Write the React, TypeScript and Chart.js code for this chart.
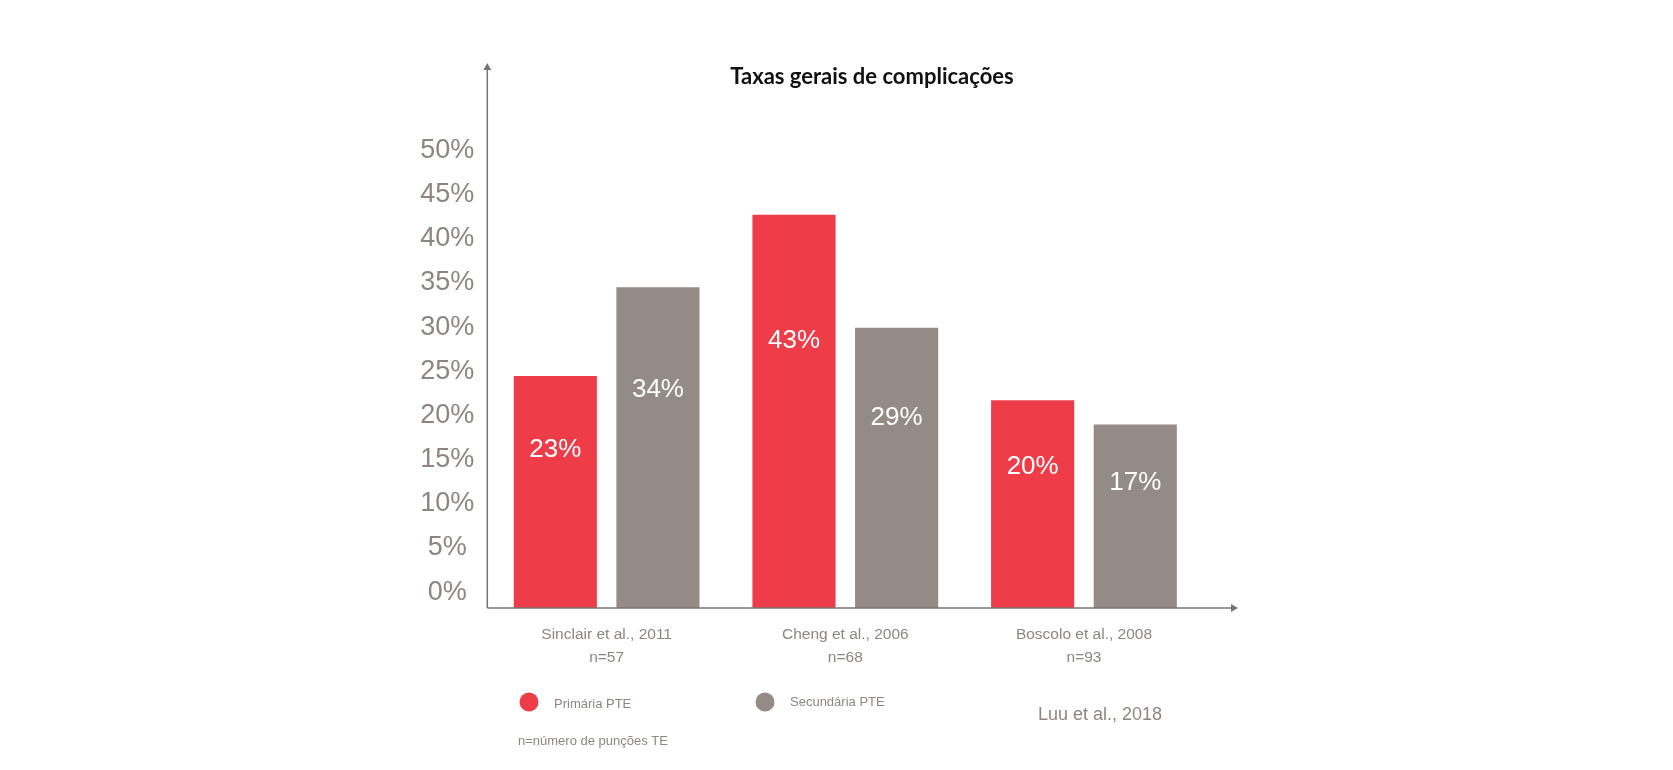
import React, { useEffect, useRef } from 'react';
import { Chart, registerables } from 'chart.js';

Chart.register(...registerables);

// ---- Data ----
const studies = ['Sinclair et al., 2011', 'Cheng et al., 2006', 'Boscolo et al., 2008'];
const sampleSizes = ['n=57', 'n=68', 'n=93'];
const seriesLabels = ['Primária PTE', 'Secundária PTE'];
const primaryValues = [23, 43, 20];
const secondaryValues = [34, 29, 17];
const yTickValues = [0, 5, 10, 15, 20, 25, 30, 35, 40, 45, 50];
const titleText = 'Taxas gerais de complicações';
const footnoteText = 'n=número de punções TE';
const sourceText = 'Luu et al., 2018';

// ---- Style ----
const RED = '#EE3D49';
const GREY = '#948A86';
const TEXT_GREY = '#8E8582';
const AXIS = '#7C7472';
const FONT = "'Liberation Sans', Arial, sans-serif";
const BAR_BASE = -5.75;

const decorPlugin = {
  id: 'decor',
  afterDatasetsDraw(chart: any) {
    const { ctx, chartArea } = chart;
    const left = chartArea.left;
    const bottom = chartArea.bottom;
    ctx.save();

    // axes with arrows
    ctx.strokeStyle = AXIS;
    ctx.fillStyle = AXIS;
    ctx.lineWidth = 1.5;
    ctx.beginPath();
    ctx.moveTo(left, bottom);
    ctx.lineTo(left, 69);
    ctx.moveTo(left, bottom);
    ctx.lineTo(1232, bottom);
    ctx.stroke();
    ctx.beginPath();
    ctx.moveTo(left, 63);
    ctx.lineTo(left - 4, 70);
    ctx.lineTo(left + 4, 70);
    ctx.closePath();
    ctx.fill();
    ctx.beginPath();
    ctx.moveTo(1238, bottom);
    ctx.lineTo(1231, bottom - 4);
    ctx.lineTo(1231, bottom + 4);
    ctx.closePath();
    ctx.fill();

    // value labels inside bars
    ctx.fillStyle = '#FFFFFF';
    ctx.font = `26px ${FONT}`;
    ctx.textAlign = 'center';
    ctx.textBaseline = 'middle';
    chart.data.datasets.forEach((ds: any, di: number) => {
      const meta = chart.getDatasetMeta(di);
      meta.data.forEach((bar: any, i: number) => {
        const y = bar.y + 0.32 * (bar.base - bar.y);
        ctx.fillText(`${ds.data[i]}%`, bar.x, y);
      });
    });

    // title
    ctx.fillStyle = '#111111';
    ctx.font = `bold 22px Lato, 'Open Sans', sans-serif`;
    ctx.textAlign = 'center';
    ctx.fillText(titleText, 872, 77);

    // legend
    const legendX = [529, 765];
    chart.data.datasets.forEach((ds: any, di: number) => {
      const cx = legendX[di];
      const cy = 702;
      ctx.fillStyle = ds.backgroundColor;
      ctx.beginPath();
      ctx.arc(cx, cy, 9.5, 0, Math.PI * 2);
      ctx.fill();
      ctx.fillStyle = TEXT_GREY;
      ctx.font = `13px ${FONT}`;
      ctx.textAlign = 'left';
      ctx.fillText(ds.label, cx + 25, cy + 2 - di * 2);
    });

    // footnote and source
    ctx.fillStyle = TEXT_GREY;
    ctx.font = `13px ${FONT}`;
    ctx.textAlign = 'left';
    ctx.fillText(footnoteText, 518, 741);
    ctx.font = `18px ${FONT}`;
    ctx.fillText(sourceText, 1038, 715);

    ctx.restore();
  },
};

export default function App() {
  const canvasRef = useRef<HTMLCanvasElement | null>(null);

  useEffect(() => {
    const canvas = canvasRef.current;
    if (!canvas) return;
    const chart = new Chart(canvas, {
      type: 'bar',
      data: {
        labels: studies.map((s, i) => [s, sampleSizes[i]]),
        datasets: [
          {
            label: seriesLabels[0],
            data: primaryValues,
            backgroundColor: RED,
            yAxisID: 'yBars',
            base: BAR_BASE,
          } as any,
          {
            label: seriesLabels[1],
            data: secondaryValues,
            backgroundColor: GREY,
            yAxisID: 'yBars',
            base: BAR_BASE,
          } as any,
        ],
      },
      options: {
        animation: false,
        responsive: false,
        layout: { padding: { top: 63, right: 469.7, bottom: 0, left: 0 } },
        datasets: { bar: { barPercentage: 0.81, categoryPercentage: 0.86 } },
        plugins: {
          legend: { display: false },
          tooltip: { enabled: false },
          title: { display: false },
        },
        scales: {
          x: {
            type: 'category',
            grid: { display: false, drawTicks: false },
            border: { display: false },
            ticks: {
              color: TEXT_GREY,
              font: { family: FONT, size: 15.5, lineHeight: '23px' },
              padding: 15.5,
              maxRotation: 0,
              autoSkip: false,
            },
            afterFit: (s: any) => {
              s.height = 162;
            },
          },
          y: {
            type: 'linear',
            position: 'left',
            min: -1.8,
            max: 59.9,
            grid: { display: false, drawTicks: false },
            border: { display: false },
            afterBuildTicks: (s: any) => {
              s.ticks = yTickValues.map((v) => ({ value: v }));
            },
            ticks: {
              callback: (v: any) => `${v}%`,
              crossAlign: 'center',
              padding: 13,
              color: TEXT_GREY,
              font: { family: FONT, size: 27 },
            },
            afterFit: (s: any) => {
              s.width = 487.3;
            },
          },
          yBars: {
            type: 'linear',
            display: false,
            min: BAR_BASE,
            max: 61.8,
          },
        },
      } as any,
      plugins: [decorPlugin],
    });
    return () => chart.destroy();
  }, []);

  return (
    <div style={{ position: 'fixed', left: 0, top: 0, width: 1673, height: 770, background: '#fff' }}>
      <canvas ref={canvasRef} width={1673} height={770} style={{ display: 'block' }} />
    </div>
  );
}
